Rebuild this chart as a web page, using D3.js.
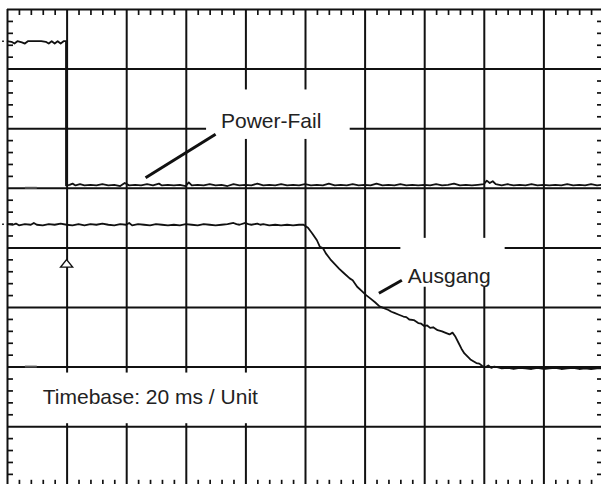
<!DOCTYPE html>
<html>
<head>
<meta charset="utf-8">
<script src="https://cdn.jsdelivr.net/npm/d3@7"></script>
<style>
  body { margin: 0; background: #fff; }
  svg { display: block; font-family: "Liberation Sans", Arial, sans-serif; }
  .grid line { stroke: #111; stroke-width: 2; }
  .minor line { stroke: #111; stroke-width: 1.7; }
  .grid path, .minor path { display: none; }
  .trace { fill: none; stroke: #111; stroke-width: 1.8; stroke-linejoin: round; }
</style>
</head>
<body>
<svg id="scope" width="601" height="484"></svg>
<script>
// time in ms (20 ms / division), level in divisions (0 = bottom row)
var timeTicks = [0, 20, 40, 60, 80, 100, 120, 140, 160, 180, 200];
var levelTicks = [0, 1, 2, 3, 4, 5, 6, 7, 8];

// channel 1: Power-Fail signal
var powerFail = [[0,7.46],[1.5,7.45],[2.5,7.42],[3.5,7.46],[5,7.44],[6,7.42],[7,7.46],[8.5,7.46],
  [10,7.46],[11.5,7.46],[13,7.45],[14,7.42],[15,7.46],[16,7.42],[17,7.46],[18,7.42],[19,7.46],[19.8,7.46],
  [19.8,5.04],[21,5.05],[22,5.07],[23,5.04],[24.5,5.06],[26,5.04],[28,5.05],[30,5.04],[32,5.06],[34,5.04],
  [36,5.05],[38,5.03],[39.5,5.08],[41,5.04],[43,5.05],[45,5.04],[47,5.06],[49,5.04],[51,5.07],[52,5.04],
  [54,5.05],[56,5.04],[58,5.05],[60,5.03],[61,5.09],[62,5.04],[64,5.05],[66,5.04],[68,5.06],[70,5.04],
  [72,5.05],[74,5.03],[76,5.06],[78,5.04],[80,5.05],[82,5.04],[84,5.07],[86,5.04],[88,5.05],[90,5.04],
  [92,5.06],[94,5.04],[96,5.05],[98,5.04],[100,5.06],[102,5.04],[104,5.05],[106,5.04],[108,5.07],[110,5.04],
  [112,5.05],[114,5.04],[116,5.06],[118,5.04],[120,5.05],[122,5.04],[124,5.07],[126,5.04],[128,5.05],[130,5.04],
  [132,5.06],[134,5.04],[136,5.05],[138,5.04],[140,5.05],[142,5.04],[144,5.06],[146,5.04],[148,5.05],[150,5.07],
  [152,5.04],[154,5.05],[156,5.04],[158,5.05],[160,5.06],[161,5.12],[162,5.08],[163,5.11],[164,5.06],[166,5.04],
  [168,5.06],[170,5.04],[172,5.05],[174,5.04],[176,5.06],[178,5.04],[180,5.05],[182,5.04],[184,5.05],[186,5.04],
  [188,5.06],[190,5.04],[192,5.05],[194,5.04],[196,5.06],[198,5.04],[199.5,5.05]];

// channel 2: Ausgang (output)
var ausgang = [[0,4.39],[2,4.38],[3,4.40],[4,4.37],[6,4.39],[8,4.38],[9,4.41],[10,4.38],[12,4.37],[14,4.39],
  [16,4.38],[18,4.40],[20,4.38],[22,4.37],[24,4.39],[26,4.37],[28,4.39],[30,4.38],[32,4.40],[34,4.38],
  [36,4.37],[38,4.39],[40,4.38],[41,4.41],[42,4.37],[44,4.39],[46,4.38],[48,4.37],[50,4.39],[52,4.38],
  [54,4.37],[56,4.38],[58,4.37],[60,4.39],[62,4.38],[64,4.37],[66,4.39],[68,4.38],[70,4.37],[72,4.38],
  [74,4.39],[76,4.41],[77,4.39],[78,4.38],[80,4.41],[81,4.39],[82,4.38],[84,4.40],[85,4.38],[86,4.39],
  [88,4.37],[90,4.38],[92,4.37],[94,4.38],[96,4.37],[98,4.38],[99.5,4.38],
  [101,4.33],[102.5,4.23],[104,4.12],[105,4.01],[106,3.99],[107,3.90],[108.5,3.80],[110,3.72],[111.5,3.64],
  [113,3.57],[115,3.48],[116,3.45],[117.5,3.34],[119,3.27],[120.5,3.20],[122,3.14],[123.5,3.08],[125,3.01],
  [126.5,2.98],[128,2.95],[129,2.92],[130,2.90],[131.5,2.87],[133,2.84],[134,2.83],[135,2.79],[136.5,2.78],
  [138,2.73],[139,2.72],[140,2.68],[141,2.69],[142,2.65],[143,2.66],[144.5,2.61],[146,2.59],[147,2.57],
  [148.5,2.54],[149.5,2.57],[150.5,2.50],[151.5,2.40],[152.5,2.30],[153.5,2.22],[154.5,2.17],[155.5,2.12],
  [156.5,2.09],[157.5,2.06],[158.5,2.05],[159.5,2.01],[160.5,1.99],[161.5,2.02],[162.5,1.98],[163.5,2.00],
  [164.5,1.99],[166,1.97],[168,1.98],[170,1.96],[172,1.98],[174,1.97],[176,1.96],[178,1.98],[180,1.96],
  [182,1.97],[184,1.98],[186,1.96],[188,1.97],[190,1.98],[192,1.96],[194,1.97],[196,1.96],[198,1.97],[199.5,1.97]];

var groundLevels = [5, 2];       // ground markers of ch1 and ch2
var channelLevels = [7.46, 4.39]; // position markers left of the screen
var triggerMs = 20, triggerLevel = 3.72;

var labels = [
  {text: 'Power-Fail', ms: 71.8, level: 6.0, box: [66.8, 115, 5.82, 6.65], from: [70, 5.9], to: [46.5, 5.17]},
  {text: 'Ausgang', ms: 134.5, level: 3.41, box: [132, 167, 3.34, 4.16], from: [132.5, 3.45], to: [124.8, 3.23]},
  {text: 'Timebase: 20 ms / Unit', ms: 12, level: 1.37, box: [2, 99, 1.05, 1.9]}
];

var svg = d3.select('#scope');
var x = d3.scaleLinear().domain([0, 200]).range([7, 603]);
var y = d3.scaleLinear().domain([0, 8]).range([485.8, 9]);

var minorX = d3.range(0, 201, 4).filter(function(d) { return d % 20 != 0; });
var minorY = d3.range(0, 8.01, 0.2).filter(function(d) { return Math.abs(d - Math.round(d)) > 0.01; });

// major grid
svg.append('g').attr('class', 'grid').attr('transform', 'translate(0,' + y(0) + ')')
  .call(d3.axisBottom(x).tickValues(timeTicks).tickSize(y(0) - y(8)).tickSizeOuter(0).tickFormat(''))
  .selectAll('line').attr('y2', -(y(0) - y(8)));
svg.append('g').attr('class', 'grid').attr('transform', 'translate(' + x(0) + ',0)')
  .call(d3.axisRight(y).tickValues(levelTicks).tickSize(x(200) - x(0)).tickSizeOuter(0).tickFormat(''));

// minor ticks along the border
svg.append('g').attr('class', 'minor').attr('transform', 'translate(0,' + y(8) + ')')
  .call(d3.axisBottom(x).tickValues(minorX).tickSize(6).tickSizeOuter(0).tickFormat(''));
svg.append('g').attr('class', 'minor').attr('transform', 'translate(0,' + y(0) + ')')
  .call(d3.axisTop(x).tickValues(minorX).tickSize(6).tickSizeOuter(0).tickFormat(''));
svg.append('g').attr('class', 'minor').attr('transform', 'translate(' + x(0) + ',0)')
  .call(d3.axisRight(y).tickValues(minorY).tickSize(6).tickSizeOuter(0).tickFormat(''));
svg.append('g').attr('class', 'minor').attr('transform', 'translate(' + x(200) + ',0)')
  .call(d3.axisLeft(y).tickValues(minorY).tickSize(6).tickSizeOuter(0).tickFormat(''));

// label boxes cover the grid
labels.forEach(function(l) {
  svg.append('rect')
    .attr('x', x(l.box[0])).attr('width', x(l.box[1]) - x(l.box[0]))
    .attr('y', y(l.box[3])).attr('height', y(l.box[2]) - y(l.box[3]))
    .attr('fill', '#fff');
  svg.append('text').attr('x', x(l.ms)).attr('y', y(l.level))
    .attr('font-size', 21).attr('fill', '#222').text(l.text);
  if (l.from) {
    svg.append('line')
      .attr('x1', x(l.from[0])).attr('y1', y(l.from[1]))
      .attr('x2', x(l.to[0])).attr('y2', y(l.to[1]))
      .attr('stroke', '#111').attr('stroke-width', 3);
  }
});

// ground markers and channel position markers
svg.selectAll('.gnd').data(groundLevels).enter().append('line').attr('class', 'gnd')
  .attr('x1', x(6)).attr('x2', x(10)).attr('y1', function(d) { return y(d); }).attr('y2', function(d) { return y(d); })
  .attr('stroke', '#555').attr('stroke-width', 2);
svg.selectAll('.pos').data(channelLevels).enter().append('line').attr('class', 'pos')
  .attr('x1', 2).attr('x2', 4).attr('y1', function(d) { return y(d); }).attr('y2', function(d) { return y(d); })
  .attr('stroke', '#333').attr('stroke-width', 1.5);

// trigger marker
var tx = x(triggerMs), ty = y(triggerLevel);
svg.append('path')
  .attr('d', 'M' + tx + ',' + (ty - 4.5) + 'L' + (tx + 6) + ',' + (ty + 3) + 'L' + (tx - 6) + ',' + (ty + 3) + 'Z')
  .attr('fill', '#fff').attr('stroke', '#111').attr('stroke-width', 1.4);

// traces
var line = d3.line().x(function(d) { return x(d[0]); }).y(function(d) { return y(d[1]); });
svg.append('path').attr('class', 'trace').attr('d', line(powerFail));
svg.append('path').attr('class', 'trace').attr('d', line(ausgang));
</script>
</body>
</html>
